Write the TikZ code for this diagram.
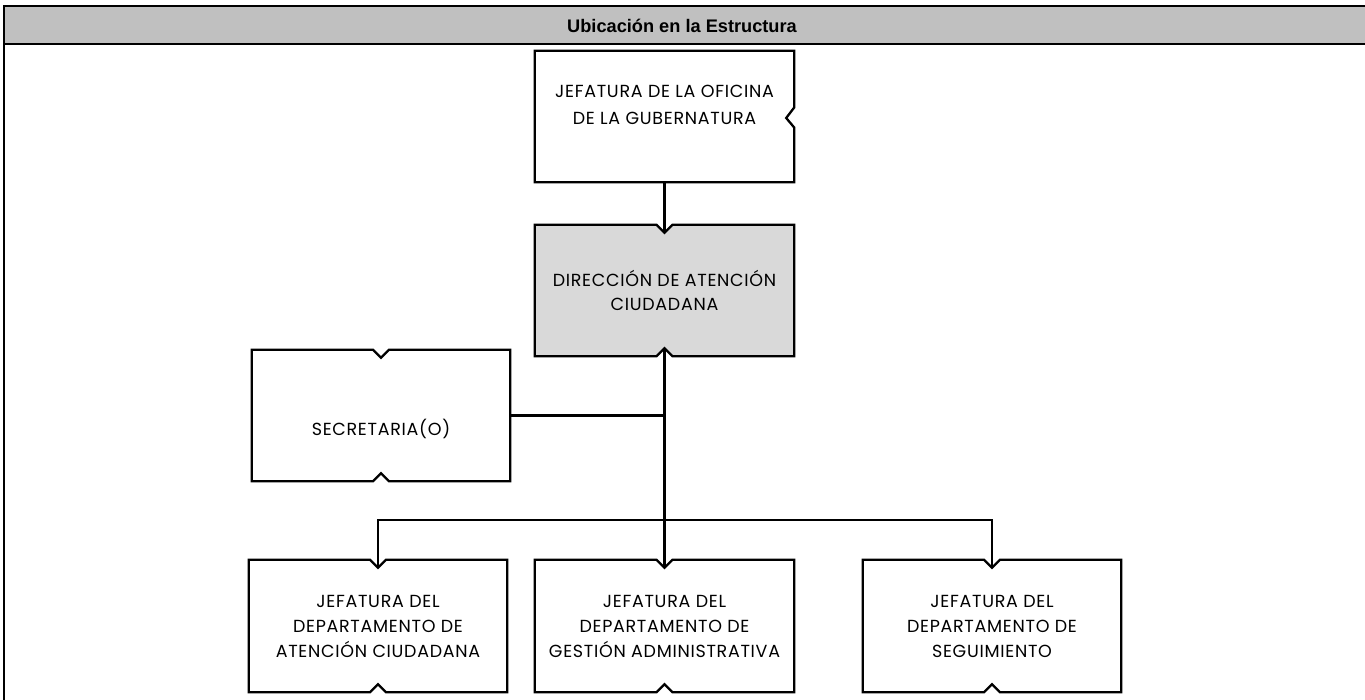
\documentclass[tikz,border=0pt]{standalone}
\usepackage{fontspec}
\usetikzlibrary{backgrounds}
\newfontfamily\boxfont[LetterSpace=4]{Poppins}
\newfontfamily\headfont{Liberation Sans}
\definecolor{headgray}{RGB}{192,192,192}
\definecolor{dirgray}{RGB}{217,217,217}
\tikzset{
  frameline/.style={line width=2.4pt},
  boxline/.style={line width=2.3pt, line join=miter},
  conn/.style={line width=2.3pt},
  orgbox/.style={draw=none, inner sep=0pt, minimum width=259pt, minimum height=131pt,
    align=center, font=\boxfont\fontsize{17.5}{25}\selectfont},
  boxtext/.style={inner sep=0pt, align=center, font=\boxfont\fontsize{17.5}{27}\selectfont},
}
\newcommand\tbnotch[2][white]{%
  \begin{scope}[on background layer]
  \draw[boxline, fill=#1] (#2.north west) -- ([xshift=-8pt]#2.north) -- ([yshift=-8pt]#2.north)
    -- ([xshift=8pt]#2.north) -- (#2.north east) -- (#2.south east)
    -- ([xshift=8pt]#2.south) -- ([yshift=8pt]#2.south) -- ([xshift=-8pt]#2.south)
    -- (#2.south west) -- cycle;
  \end{scope}}
\begin{document}
\begin{tikzpicture}[x=1pt,y=-1pt]
\useasboundingbox (0,0) rectangle (1365,700);
\clip (0,0) rectangle (1365,700);
% frame and header
\fill[headgray] (4,6) rectangle (1370,44);
\draw[frameline] (1370,6) -- (4,6) -- (4,705);
\draw[frameline] (4,44) -- (1370,44);
\node[font=\headfont\bfseries\fontsize{18.2}{20}\selectfont, inner sep=0pt] (head) at (682,25.5) {Ubicación en la Estructura};
% boxes
\node[orgbox] (top) at (664.5,116.5) {};
\draw[boxline] (top.north west) -- (top.north east) -- ([yshift=9pt]top.east) -- ([xshift=-8pt,yshift=-1.5pt]top.east)
  -- ([yshift=-11pt]top.east) -- (top.south east) -- (top.south west) -- cycle;
\node[boxtext] (toptext) at (664.5,104.5) {JEFATURA DE LA OFICINA\\DE LA GUBERNATURA};

\node[orgbox, font=\boxfont\fontsize{17.5}{24}\selectfont] (dir) at (664.5,290.5) {DIRECCIÓN DE ATENCIÓN\\CIUDADANA};
\tbnotch[dirgray]{dir}

\node[orgbox, minimum width=258pt] (sec) at (381,415.5) {};
\tbnotch{sec}
\node[boxtext] (sectext) at (381,429) {SECRETARIA(O)};

\node[orgbox, minimum width=258pt, minimum height=132pt] (left) at (378,626) {JEFATURA DEL\\DEPARTAMENTO DE\\ATENCIÓN CIUDADANA};
\tbnotch{left}
\node[orgbox, minimum height=132pt] (mid) at (664.5,626) {JEFATURA DEL\\DEPARTAMENTO DE\\GESTIÓN ADMINISTRATIVA};
\tbnotch{mid}
\node[orgbox, minimum width=258pt, minimum height=132pt] (right) at (992,626) {JEFATURA DEL\\DEPARTAMENTO DE\\SEGUIMIENTO};
\tbnotch{right}
% connectors
\coordinate (bus) at (664.5,520);
\draw[conn] (top.south) -- ([yshift=-8pt]dir.north);
\draw[conn] ([yshift=8pt]dir.south) -- ([yshift=-8pt]mid.north);
\draw[conn] (sec.east) -- (sec.east -| dir.south);
\draw[conn] ([yshift=-8pt]left.north) |- (bus) -| ([yshift=-8pt]right.north);
\end{tikzpicture}
\end{document}
